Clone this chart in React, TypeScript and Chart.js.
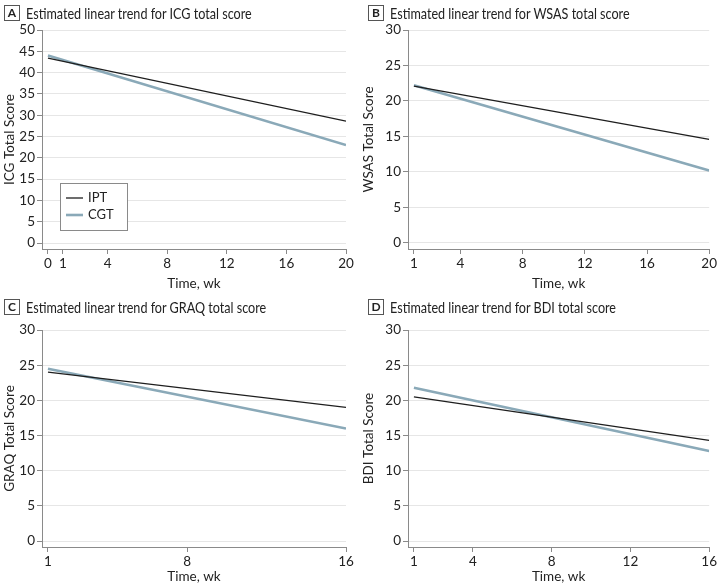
import React, { useEffect, useRef } from "react";
import { Chart, registerables } from "chart.js";
Chart.register(...registerables);

const FONT = "Lato, 'DejaVu Sans Condensed', sans-serif";
const TEXT = "#222";
const AXIS = "#8a8a8a";
const GRID = "#e6e6e6";
const IPT_COLOR = "#1e1e1e";
const CGT_COLOR = "#8aa9b8";

// Panel A: ICG
const icgWeeks = [0, 20];
const icgIPT = [43.4, 28.6];
const icgCGT = [44.0, 23.0];
const icgXTicks = [0, 1, 4, 8, 12, 16, 20];
const icgYTicks = [0, 5, 10, 15, 20, 25, 30, 35, 40, 45, 50];

// Panel B: WSAS
const wsasWeeks = [1, 20];
const wsasIPT = [22.1, 14.6];
const wsasCGT = [22.2, 10.2];
const wsasXTicks = [1, 4, 8, 12, 16, 20];
const wsasYTicks = [0, 5, 10, 15, 20, 25, 30];

// Panel C: GRAQ
const graqWeeks = [1, 16];
const graqIPT = [24.0, 19.0];
const graqCGT = [24.5, 16.0];
const graqXTicks = [1, 8, 16];
const graqYTicks = [0, 5, 10, 15, 20, 25, 30];

// Panel D: BDI
const bdiWeeks = [1, 16];
const bdiIPT = [20.5, 14.3];
const bdiCGT = [21.8, 12.8];
const bdiXTicks = [1, 4, 8, 12, 16];
const bdiYTicks = [0, 5, 10, 15, 20, 25, 30];

const seriesNames = ["IPT", "CGT"];

const insideLegend = {
  id: "insideLegend",
  afterDatasetsDraw(chart: any, _args: any, opts: any) {
    if (!opts || !opts.show) return;
    const { ctx, chartArea } = chart;
    const w = opts.w, h = opts.h;
    const x = Math.round(chartArea.left + opts.dx);
    const y = Math.round(chartArea.bottom - opts.dy - h);
    ctx.save();
    ctx.fillStyle = "#fff";
    ctx.fillRect(x, y, w, h);
    ctx.strokeStyle = "#8a8a8a";
    ctx.lineWidth = 1;
    ctx.strokeRect(x + 0.5, y + 0.5, w, h);
    chart.data.datasets.forEach((ds: any, i: number) => {
      const ry = y + 15 + i * 17;
      ctx.strokeStyle = ds.borderColor;
      ctx.lineWidth = ds.borderWidth;
      ctx.beginPath();
      ctx.moveTo(x + 6, ry);
      ctx.lineTo(x + 23, ry);
      ctx.stroke();
      ctx.fillStyle = TEXT;
      ctx.font = `13px ${FONT}`;
      ctx.textBaseline = "middle";
      ctx.fillText(ds.label, x + 28, ry);
    });
    ctx.restore();
  },
};

type PanelProps = {
  letter: string;
  title: string;
  yTitle: string;
  weeks: number[];
  ipt: number[];
  cgt: number[];
  xTicks: number[];
  yTicks: number[];
  xMin: number;
  yMin: number;
  left: number;
  top: number;
  width: number;
  height: number;
  yWidth: number;
  xHeight: number;
  padTop: number;
  padRight: number;
  headTop: number;
  headLeft: number;
  xTitlePad: number;
  legend?: boolean;
};

function Panel(p: PanelProps) {
  const ref = useRef<HTMLCanvasElement>(null);
  useEffect(() => {
    if (!ref.current) return;
    const tickFont = { family: FONT, size: 13.5 };
    const chart = new Chart(ref.current, {
      type: "line",
      data: {
        datasets: [
          {
            label: seriesNames[0],
            data: p.weeks.map((w, i) => ({ x: w, y: p.ipt[i] })),
            borderColor: IPT_COLOR,
            borderWidth: 1.3,
            pointRadius: 0,
            fill: false,
          },
          {
            label: seriesNames[1],
            data: p.weeks.map((w, i) => ({ x: w, y: p.cgt[i] })),
            borderColor: CGT_COLOR,
            borderWidth: 2.6,
            pointRadius: 0,
            fill: false,
          },
        ],
      },
      options: {
        animation: false,
        responsive: false,
        maintainAspectRatio: false,
        layout: { padding: { top: p.padTop, right: p.padRight, left: 0, bottom: 0 } },
        plugins: {
          legend: { display: false },
          tooltip: { enabled: false },
          insideLegend: { show: !!p.legend, dx: 18, dy: 19, w: 67, h: 47 },
        } as any,
        scales: {
          x: {
            type: "linear",
            min: p.xMin,
            max: p.xTicks[p.xTicks.length - 1],
            afterBuildTicks: (s: any) => {
              s.ticks = p.xTicks.map((v) => ({ value: v }));
            },
            afterFit: (s: any) => {
              s.height = p.xHeight;
            },
            grid: { drawOnChartArea: false, drawTicks: true, tickLength: 5, tickColor: AXIS },
            border: { display: true, color: AXIS, width: 1 },
            ticks: { font: tickFont, color: TEXT, padding: 2, autoSkip: false, maxRotation: 0 },
            title: { display: true, text: "Time, wk", font: tickFont, color: TEXT, padding: { top: p.xTitlePad, bottom: 0 } },
          },
          y: {
            type: "linear",
            min: p.yMin,
            max: p.yTicks[p.yTicks.length - 1],
            afterBuildTicks: (s: any) => {
              s.ticks = p.yTicks.map((v) => ({ value: v }));
            },
            afterFit: (s: any) => {
              s.width = p.yWidth;
            },
            grid: { color: GRID, drawTicks: true, tickLength: 5, tickColor: AXIS },
            border: { display: true, color: AXIS, width: 1 },
            ticks: { font: tickFont, color: TEXT, padding: 2 },
            title: { display: true, text: p.yTitle, font: tickFont, color: TEXT, padding: { top: 2, bottom: 2 } },
          },
        } as any,
      },
      plugins: [insideLegend as any],
    });
    return () => chart.destroy();
  }, []);
  return (
    <>
      <div
        style={{
          position: "absolute",
          left: p.left,
          top: p.top,
          width: p.width,
          height: p.height,
        }}
      >
        <canvas ref={ref} width={p.width} height={p.height} style={{ width: p.width, height: p.height, display: "block" }} />
      </div>
      <div
        style={{
          position: "absolute",
          left: p.left + p.headLeft,
          top: p.headTop,
          height: 17,
          display: "flex",
          alignItems: "center",
          fontFamily: FONT,
          color: TEXT,
          zIndex: 2,
          whiteSpace: "nowrap",
        }}
      >
        <span
          style={{
            display: "inline-flex",
            alignItems: "center",
            justifyContent: "center",
            width: 16,
            height: 16,
            border: "1px solid #555",
            fontWeight: 700,
            fontSize: 12,
            boxSizing: "border-box",
          }}
        >
          {p.letter}
        </span>
        <span
          style={{
            marginLeft: 6,
            fontSize: 15,
            display: "inline-block",
            transform: "scaleX(0.84)",
            transformOrigin: "left center",
          }}
        >
          {p.title}
        </span>
      </div>
    </>
  );
}

export default function App() {
  return (
    <div style={{ position: "absolute", left: 0, top: 0, width: 719, height: 585, background: "#fff", overflow: "hidden" }}>
      <Panel
        letter="A"
        title="Estimated linear trend for ICG total score"
        yTitle="ICG Total Score"
        weeks={icgWeeks}
        ipt={icgIPT}
        cgt={icgCGT}
        xTicks={icgXTicks}
        yTicks={icgYTicks}
        xMin={-0.4}
        yMin={-1.4}
        left={0}
        top={14}
        width={359}
        height={278}
        yWidth={42}
        xHeight={43}
        padTop={16}
        padRight={13}
        headTop={4}
        headLeft={4}
        xTitlePad={1}
        legend
      />
      <Panel
        letter="B"
        title="Estimated linear trend for WSAS total score"
        yTitle="WSAS Total Score"
        weeks={wsasWeeks}
        ipt={wsasIPT}
        cgt={wsasCGT}
        xTicks={wsasXTicks}
        yTicks={wsasYTicks}
        xMin={0.62}
        yMin={-0.85}
        left={359}
        top={14}
        width={360}
        height={278}
        yWidth={49}
        xHeight={43}
        padTop={16}
        padRight={7}
        headTop={4}
        headLeft={9}
        xTitlePad={1}
      />
      <Panel
        letter="C"
        title="Estimated linear trend for GRAQ total score"
        yTitle="GRAQ Total Score"
        weeks={graqWeeks}
        ipt={graqIPT}
        cgt={graqCGT}
        xTicks={graqXTicks}
        yTicks={graqYTicks}
        xMin={0.7}
        yMin={-0.85}
        left={0}
        top={308}
        width={359}
        height={277}
        yWidth={42}
        xHeight={38}
        padTop={22}
        padRight={13}
        headTop={298}
        headLeft={4}
        xTitlePad={3}
      />
      <Panel
        letter="D"
        title="Estimated linear trend for BDI total score"
        yTitle="BDI Total Score"
        weeks={bdiWeeks}
        ipt={bdiIPT}
        cgt={bdiCGT}
        xTicks={bdiXTicks}
        yTicks={bdiYTicks}
        xMin={0.7}
        yMin={-0.85}
        left={359}
        top={308}
        width={360}
        height={277}
        yWidth={49}
        xHeight={38}
        padTop={22}
        padRight={7}
        headTop={298}
        headLeft={9}
        xTitlePad={3}
      />
    </div>
  );
}
